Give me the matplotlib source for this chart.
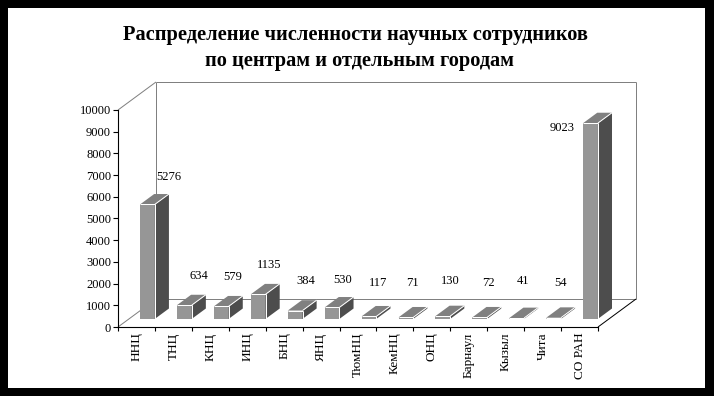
import matplotlib
matplotlib.use("Agg")
import matplotlib.pyplot as plt
from matplotlib.patches import Rectangle

# values
centers = ["ННЦ", "ТНЦ", "КНЦ", "ИНЦ", "БНЦ", "ЯНЦ", "ТюмНЦ", "КемНЦ", "ОНЦ",
           "Барнаул", "Кызыл", "Чита", "СО РАН"]
staff = [5276, 634, 579, 1135, 384, 530, 117, 71, 130, 72, 41, 54, 9023]
y_ticks = [0, 1000, 2000, 3000, 4000, 5000, 6000, 7000, 8000, 9000, 10000]

# label nudges in pixels from the front-left top corner of each bar
label_dx = [29, 22, 19, 18, 18, 18, 16, 14, 15, 16, 14, 14, -21]
label_dy = [27, 29, 29, 29, 30, 27, 33, 34, 35, 34, 37, 35, -5]

W, H = 714, 396
plt.rcParams["font.family"] = ["Liberation Serif", "DejaVu Serif"]

fig = plt.figure(figsize=(W / 100, H / 100), dpi=100, facecolor="black")
# white sheet inside the black frame
fig.patches.append(Rectangle((8 / W, 8 / H), 697 / W, 380 / H, transform=fig.transFigure,
                             facecolor="white", edgecolor="none", figure=fig, zorder=-5))

ax = fig.add_axes([118 / W, (H - 327) / H, 480 / W, 217 / H])
ax.patch.set_visible(False)
ax.set_xlim(0, 13)
ax.set_ylim(0, 10000)

# oblique depth: one full depth moves the point this far in data units
depth_x = 38 / 36.92
depth_y = 28 / 217 * 10000


def proj(x, y, d):
    return x + d * depth_x, y + d * depth_y


def seg(p, q, color, z=1):
    ax.plot([p[0], q[0]], [p[1], q[1]], color=color, lw=0.72, zorder=z, clip_on=False,
            solid_capstyle="butt")


grey = "#808080"
seg(proj(0, 0, 0), proj(0, 0, 1), grey)
seg(proj(0, 10000, 0), proj(0, 10000, 1), grey)
seg(proj(0, 0, 1), proj(0, 10000, 1), grey)
seg(proj(0, 10000, 1), proj(13, 10000, 1), grey)
seg(proj(13, 10000, 1), proj(13, 0, 1), grey)
seg(proj(0, 0, 1), proj(13, 0, 1), grey)
seg(proj(13, 0, 0), proj(13, 0, 1), "black")

# bars
d0, d1 = 0.29, 0.66
half = 0.2
for i, v in enumerate(staff):
    x0, x1 = i + 0.5 - half, i + 0.5 + half
    z = 3 + i
    front = [proj(x0, 0, d0), proj(x1, 0, d0), proj(x1, v, d0), proj(x0, v, d0)]
    side = [proj(x1, 0, d0), proj(x1, 0, d1), proj(x1, v, d1), proj(x1, v, d0)]
    top = [proj(x0, v, d0), proj(x1, v, d0), proj(x1, v, d1), proj(x0, v, d1)]
    ax.fill(*zip(*front), color="#969696", lw=0, zorder=z, clip_on=False)
    ax.fill(*zip(*side), color="#4d4d4d", lw=0, zorder=z, clip_on=False)
    ax.fill(*zip(*top), color="#808080", lw=0, zorder=z, clip_on=False)
    # thin white highlights along the shared edges
    seg(front[2], front[3], "white", z + 0.5)
    seg(front[1], front[2], "white", z + 0.5)
    seg(top[1], top[2], "white", z + 0.5)
    ax.annotate(str(v), xy=proj(x0, v, d0), xytext=(label_dx[i] * 0.72, label_dy[i] * 0.72),
                textcoords="offset points", ha="center", va="center", fontsize=9,
                color="black", zorder=30, annotation_clip=False)

for name in ["top", "right"]:
    ax.spines[name].set_visible(False)
for name in ["left", "bottom"]:
    ax.spines[name].set_linewidth(0.8)
    ax.spines[name].set_color("black")
    ax.spines[name].set_zorder(20)

ax.set_yticks(y_ticks)
ax.set_xticks(range(14))
ax.set_xticklabels([])
ax.set_xticks([i + 0.5 for i in range(13)], minor=True)
ax.set_xticklabels(centers, minor=True, rotation=90, fontsize=9.5, va="top", ha="center")
ax.tick_params(axis="x", which="major", length=3, width=0.8, direction="out")
ax.tick_params(axis="x", which="minor", length=0, pad=4)
ax.tick_params(axis="y", length=3.5, width=0.8, direction="out", pad=1.5, labelsize=9)

fig.text(355.5 / W, 1 - 35 / H, "Распределение численности научных сотрудников",
         ha="center", va="center", fontsize=14.7, fontweight="bold", color="black")
fig.text(359.5 / W, 1 - 61 / H, "по центрам и отдельным городам",
         ha="center", va="center", fontsize=14.7, fontweight="bold", color="black")

fig.savefig("out.png", dpi=100, facecolor="black")
